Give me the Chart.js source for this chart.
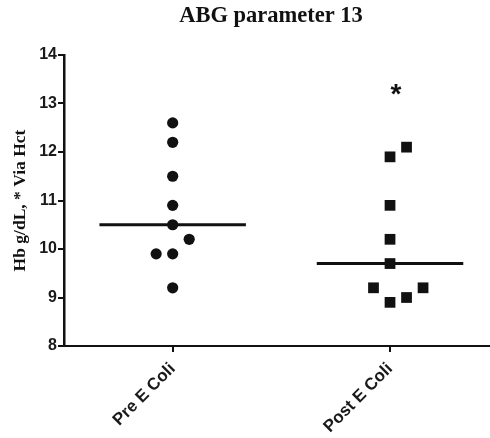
<!DOCTYPE html>
<html>
<head>
<meta charset="utf-8">
<script src="https://cdn.jsdelivr.net/npm/chart.js@4/dist/chart.umd.min.js"></script>
<style>
  html, body { margin: 0; padding: 0; background: #ffffff; }
  #wrap { width: 490px; height: 438px; }
</style>
</head>
<body>
<div id="wrap"><canvas id="chart"></canvas></div>
<script>
// Group names on the x axis
const groups = ['Pre E Coli', 'Post E Coli'];

// Hb values per animal (g/dL)
const preValues  = [12.6, 12.2, 11.5, 10.9, 10.5, 10.2, 9.9, 9.9, 9.2];
const postValues = [12.1, 11.9, 10.9, 10.2, 9.7, 9.2, 8.9, 9.0, 9.2];

// Side-by-side slot for points that would overlap (in columns left/right of centre)
const preSlots  = [0, 0, 0, 0, 0, 1, -1, 0, 0];
const postSlots = [1, 0, 0, 0, 0, -1, 0, 1, 2];

// Median of each group
const medians = [10.5, 9.7];

// Y axis ticks
const yTicks = [8, 9, 10, 11, 12, 13, 14];

// Significance mark above the post group
const sigMark = { group: 2, value: 13.3, text: '*' };

const chartTitle = 'ABG parameter 13';
const yTitle = 'Hb g/dL, * Via Hct';

const SLOT = 0.076;    // horizontal step between side-by-side points
const HALF = 0.337;    // half length of the median bar

function scatterPoints(values, slots, groupIndex) {
  return values.map((v, i) => ({ x: groupIndex + slots[i] * SLOT, y: v }));
}
function medianBar(m, groupIndex) {
  return [{ x: groupIndex - HALF, y: m }, { x: groupIndex + HALF, y: m }];
}

const ink = '#111111';

const overlayText = {
  id: 'overlayText',
  afterDraw(chart) {
    const { ctx, chartArea, scales } = chart;
    ctx.save();
    ctx.fillStyle = ink;
    ctx.textAlign = 'center';
    ctx.textBaseline = 'alphabetic';
    ctx.font = 'bold 22.5px "Liberation Serif", "Times New Roman", serif';
    ctx.fillText(chartTitle, (chartArea.left + chartArea.right) / 2 - 6, 22);
    ctx.textBaseline = 'middle';
    ctx.font = 'bold 28px "Liberation Sans", Arial, sans-serif';
    ctx.fillText(sigMark.text, scales.x.getPixelForValue(sigMark.group) + 6,
                 scales.y.getPixelForValue(sigMark.value) + 6);
    ctx.restore();
  }
};

new Chart(document.getElementById('chart'), {
  type: 'scatter',
  data: {
    datasets: [
      {
        label: groups[0],
        data: scatterPoints(preValues, preSlots, 1),
        pointStyle: 'circle',
        pointRadius: 5.6,
        backgroundColor: ink,
        borderColor: ink,
        borderWidth: 0
      },
      {
        label: groups[1],
        data: scatterPoints(postValues, postSlots, 2),
        pointStyle: 'rect',
        pointRadius: 7.6,
        backgroundColor: ink,
        borderColor: ink,
        borderWidth: 0
      },
      {
        type: 'line',
        label: 'Median ' + groups[0],
        data: medianBar(medians[0], 1),
        borderColor: ink,
        borderWidth: 3,
        pointRadius: 0,
        fill: false
      },
      {
        type: 'line',
        label: 'Median ' + groups[1],
        data: medianBar(medians[1], 2),
        borderColor: ink,
        borderWidth: 3,
        pointRadius: 0,
        fill: false
      }
    ]
  },
  options: {
    responsive: true,
    maintainAspectRatio: false,
    animation: false,
    layout: { autoPadding: false, padding: { top: 55, left: 6, right: 0, bottom: 0 } },
    plugins: {
      legend: { display: false },
      tooltip: { enabled: false },
      title: { display: false }
    },
    scales: {
      x: {
        type: 'linear',
        min: 0.5,
        max: 2.46,
        afterBuildTicks(scale) {
          scale.ticks = groups.map((g, i) => ({ value: i + 1 }));
        },
        afterFit(scale) {
          scale.height = 92;
          scale.paddingLeft = 0;
          scale.paddingRight = 0;
        },
        grid: {
          drawOnChartArea: false,
          drawTicks: true,
          tickLength: 6,
          tickColor: ink,
          lineWidth: 2
        },
        border: { display: true, color: ink, width: 2 },
        ticks: {
          autoSkip: false,
          maxRotation: 45,
          minRotation: 45,
          padding: 7,
          color: '#1a1a1a',
          font: { family: '"Liberation Sans", Arial, sans-serif', size: 17, weight: 'bold' },
          callback: (v) => groups[v - 1] || ''
        }
      },
      y: {
        min: 8,
        max: 14,
        afterBuildTicks(scale) {
          scale.ticks = yTicks.map(v => ({ value: v }));
        },
        afterFit(scale) { scale.width = 58; },
        grid: {
          drawOnChartArea: false,
          drawTicks: true,
          tickLength: 6,
          tickColor: ink,
          lineWidth: 2
        },
        border: { display: true, color: ink, width: 2.5 },
        ticks: {
          padding: 1,
          color: '#1a1a1a',
          font: { family: '"Liberation Sans", Arial, sans-serif', size: 16, weight: 'bold' }
        },
        title: {
          display: true,
          text: yTitle,
          color: ink,
          padding: { top: 4, bottom: 2 },
          font: { family: '"Liberation Serif", "Times New Roman", serif', size: 17.5, weight: 'bold' }
        }
      }
    }
  },
  plugins: [overlayText]
});
</script>
</body>
</html>
